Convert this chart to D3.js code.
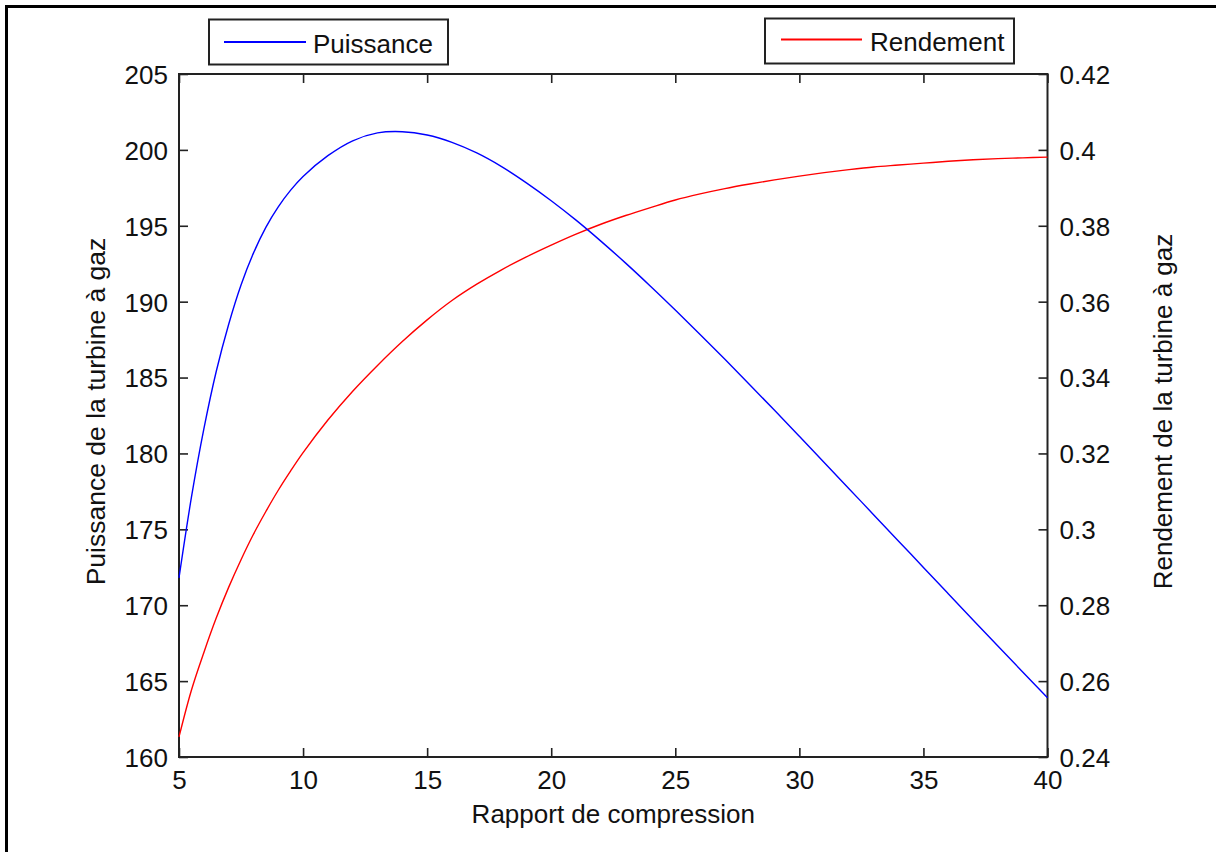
<!DOCTYPE html>
<html>
<head>
<meta charset="utf-8">
<script src="https://cdn.jsdelivr.net/npm/d3@7"></script>
<style>
  html, body { margin: 0; padding: 0; background: #fff; }
  svg { display: block; }
  text { font-family: "Liberation Sans", Arial, Helvetica, sans-serif; fill: #111; }
</style>
</head>
<body>
<svg id="chart" width="1216" height="852"></svg>
<script>
// Rapport de compression (abscisse)
const ratio = [5, 5.5, 6, 6.5, 7, 7.5, 8, 8.5, 9, 9.5, 10, 11, 12, 13, 14, 15, 16, 17, 18, 19, 20,
               21, 22, 23, 24, 25, 26, 27, 28, 29, 30, 31, 32, 33, 34, 35, 36, 37, 38, 39, 40];
// Puissance de la turbine à gaz
const puissance = [171.8, 177.1, 181.6, 185.4, 188.5, 191.1, 193.2, 194.9, 196.25, 197.35, 198.25,
                   199.62, 200.6, 201.12, 201.2, 200.98, 200.5, 199.8, 198.9, 197.83, 196.65,
                   195.37, 193.99, 192.54, 191.02, 189.45, 187.84, 186.2, 184.53, 182.84, 181.13,
                   179.41, 177.68, 175.95, 174.22, 172.49, 170.76, 169.03, 167.31, 165.6, 163.9];
// Rendement de la turbine à gaz
const rendement = [0.2453, 0.2576, 0.2675, 0.2766, 0.2847, 0.2920, 0.2987, 0.3047, 0.3103, 0.3154, 0.3202,
                   0.3288, 0.3364, 0.3432, 0.3495, 0.3552, 0.3603, 0.3646, 0.3684, 0.3718, 0.3749,
                   0.3778, 0.3804, 0.3827, 0.3848, 0.3868, 0.3884, 0.3898, 0.3910, 0.3921, 0.3931,
                   0.3940, 0.3948, 0.3955, 0.3960, 0.3965, 0.3970, 0.3974, 0.3977, 0.3979, 0.3981];

const xTicks = [5, 10, 15, 20, 25, 30, 35, 40];
const yLeftTicks = [160, 165, 170, 175, 180, 185, 190, 195, 200, 205];
const yRightTicks = [0.24, 0.26, 0.28, 0.3, 0.32, 0.34, 0.36, 0.38, 0.4, 0.42];

const svg = d3.select("#chart");
const W = 1216, H = 852;
const plot = { left: 179, right: 1047.5, top: 74, bottom: 757 };
const FS = 26;

// outer frame (top and left edges)
svg.append("line").attr("x1", 5).attr("x2", W).attr("y1", 6.5).attr("y2", 6.5)
  .attr("stroke", "#000").attr("stroke-width", 3);
svg.append("line").attr("x1", 6.5).attr("x2", 6.5).attr("y1", 5).attr("y2", H)
  .attr("stroke", "#000").attr("stroke-width", 3);

const x = d3.scaleLinear().domain([5, 40]).range([plot.left, plot.right]);
const yL = d3.scaleLinear().domain([160, 205]).range([plot.bottom, plot.top]);
const yR = d3.scaleLinear().domain([0.24, 0.42]).range([plot.bottom, plot.top]);

const axisColor = "#222";
function styleAxis(g) {
  g.select(".domain").remove();
  g.selectAll(".tick line").attr("stroke", axisColor).attr("stroke-width", 1.6);
  g.selectAll(".tick text").attr("font-size", FS).attr("fill", "#111");
}

// bottom axis, ticks pointing inward
svg.append("g").attr("transform", `translate(0,${plot.bottom})`)
  .call(d3.axisBottom(x).tickValues(xTicks).tickSize(-9).tickPadding(0).tickFormat(d3.format("d")))
  .call(styleAxis)
  .call(g => g.selectAll(".tick text").attr("y", 32).attr("dy", 0));

// top axis ticks (no labels)
svg.append("g").attr("transform", `translate(0,${plot.top})`)
  .call(d3.axisTop(x).tickValues(xTicks).tickSize(-9).tickFormat(""))
  .call(styleAxis);

// left axis
svg.append("g").attr("transform", `translate(${plot.left},0)`)
  .call(d3.axisLeft(yL).tickValues(yLeftTicks).tickSize(-9).tickFormat(d3.format("d")))
  .call(styleAxis)
  .call(g => g.selectAll(".tick text").attr("x", -11).attr("dy", "0.36em"));

// right axis
svg.append("g").attr("transform", `translate(${plot.right},0)`)
  .call(d3.axisRight(yR).tickValues(yRightTicks).tickSize(-9)
    .tickFormat(d => String(+d.toFixed(2))))
  .call(styleAxis)
  .call(g => g.selectAll(".tick text").attr("x", 12).attr("dy", "0.36em"));

// plot box
svg.append("rect")
  .attr("x", plot.left).attr("y", plot.top)
  .attr("width", plot.right - plot.left).attr("height", plot.bottom - plot.top)
  .attr("fill", "none").attr("stroke", axisColor).attr("stroke-width", 2);

// curves
const pts = (ys) => ratio.map((r, i) => [r, ys[i]]);
const lineL = d3.line().x(d => x(d[0])).y(d => yL(d[1])).curve(d3.curveCatmullRom.alpha(0.5));
const lineR = d3.line().x(d => x(d[0])).y(d => yR(d[1])).curve(d3.curveCatmullRom.alpha(0.5));

svg.append("path").datum(pts(rendement)).attr("d", lineR)
  .attr("fill", "none").attr("stroke", "#ff0000").attr("stroke-width", 1.4);
svg.append("path").datum(pts(puissance)).attr("d", lineL)
  .attr("fill", "none").attr("stroke", "#0000ff").attr("stroke-width", 1.4);

// axis titles
svg.append("text").attr("x", (plot.left + plot.right) / 2).attr("y", 823)
  .attr("text-anchor", "middle").attr("font-size", FS).text("Rapport de compression");
svg.append("g").attr("transform", `translate(105,${(plot.top + plot.bottom) / 2 - 4}) rotate(-90)`)
  .append("text").attr("text-anchor", "middle").attr("font-size", FS + 0.5)
  .text("Puissance de la turbine à gaz");
svg.append("g").attr("transform", `translate(1172,${(plot.top + plot.bottom) / 2 - 4}) rotate(-90)`)
  .append("text").attr("text-anchor", "middle").attr("font-size", FS)
  .text("Rendement de la turbine à gaz");

// legends
function legend(bx, by, bw, bh, lx1, lx2, ly, color, label, tx, ty) {
  const g = svg.append("g");
  g.append("rect").attr("x", bx).attr("y", by).attr("width", bw).attr("height", bh)
    .attr("fill", "#fff").attr("stroke", axisColor).attr("stroke-width", 2);
  g.append("line").attr("x1", lx1).attr("x2", lx2).attr("y1", ly).attr("y2", ly)
    .attr("stroke", color).attr("stroke-width", 2);
  g.append("text").attr("x", tx).attr("y", ty).attr("font-size", FS).text(label);
}
legend(209, 19.5, 239, 45, 224, 306, 42, "#0000ff", "Puissance", 313, 53);
legend(765, 18.5, 249, 45, 781, 862, 39.5, "#ff0000", "Rendement", 870, 51);
</script>
</body>
</html>
